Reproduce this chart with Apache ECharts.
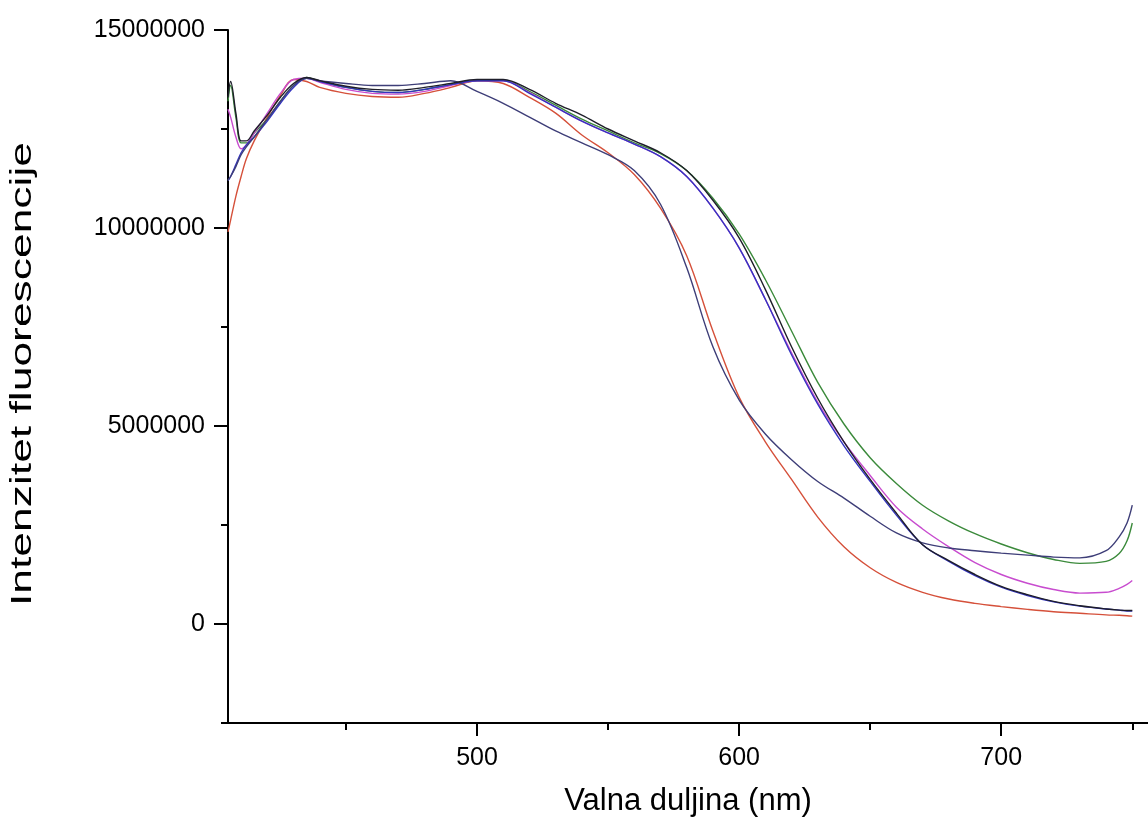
<!DOCTYPE html>
<html>
<head>
<meta charset="utf-8">
<script src="https://cdn.jsdelivr.net/npm/echarts@6/dist/echarts.min.js"></script>
<style>html,body{margin:0;padding:0;background:#fff;}#c{width:1148px;height:825px;}</style>
</head>
<body>
<div id="c"></div>
<script>
// wavelengths (nm)
var wavelengths = [405,406,408,410,412,415,420,425,430,435,440,450,460,470,480,490,500,510,520,530,540,550,560,570,580,590,600,610,620,630,640,650,660,670,680,690,700,710,720,730,740,745,748,750];
// intensities (millions)
var seriesRed     = [9.9,10.2,10.8,11.3,11.75,12.2,12.8,13.35,13.75,13.7,13.55,13.4,13.32,13.3,13.4,13.55,13.72,13.65,13.3,12.9,12.35,11.9,11.35,10.5,9.3,7.4,5.73,4.6,3.65,2.7,1.95,1.42,1.05,0.8,0.63,0.52,0.44,0.37,0.31,0.27,0.23,0.22,0.21,0.2];
var seriesGreen   = [13.2,13.6,12.8,12.15,12.15,12.4,12.75,13.2,13.6,13.8,13.7,13.55,13.45,13.42,13.5,13.62,13.72,13.73,13.45,13.1,12.75,12.45,12.15,11.88,11.45,10.75,9.85,8.7,7.4,6.1,5.05,4.2,3.55,3.0,2.6,2.28,2.02,1.8,1.63,1.53,1.58,1.78,2.1,2.55];
var seriesMagenta = [13.0,12.8,12.3,12.0,12.1,12.4,12.9,13.4,13.75,13.78,13.68,13.5,13.4,13.38,13.45,13.6,13.72,13.72,13.42,13.05,12.7,12.4,12.12,11.8,11.3,10.5,9.5,8.2,6.85,5.6,4.6,3.75,2.95,2.4,1.95,1.55,1.25,1.03,0.87,0.78,0.8,0.9,1.0,1.1];
var seriesBlue    = [11.2,11.3,11.6,11.9,12.1,12.3,12.7,13.15,13.55,13.78,13.7,13.55,13.45,13.42,13.5,13.62,13.72,13.72,13.4,13.05,12.7,12.4,12.12,11.8,11.3,10.5,9.5,8.2,6.8,5.55,4.5,3.6,2.75,2.0,1.58,1.22,0.93,0.72,0.56,0.45,0.38,0.35,0.33,0.33];
var seriesNavy    = [11.2,11.3,11.55,11.85,12.05,12.3,12.75,13.2,13.6,13.78,13.72,13.65,13.6,13.6,13.65,13.72,13.45,13.15,12.8,12.45,12.15,11.85,11.45,10.6,9.0,7.0,5.66,4.8,4.15,3.6,3.18,2.72,2.3,2.05,1.92,1.85,1.79,1.74,1.69,1.67,1.85,2.2,2.55,3.0];
var seriesBlack   = [13.3,13.7,12.9,12.2,12.2,12.45,12.85,13.3,13.65,13.8,13.72,13.58,13.5,13.48,13.55,13.65,13.75,13.75,13.5,13.15,12.85,12.5,12.2,11.9,11.45,10.7,9.75,8.45,7.0,5.7,4.6,3.65,2.8,2.0,1.6,1.25,0.95,0.74,0.57,0.46,0.38,0.35,0.34,0.34];
// tick values
var xMinorTicks = [450,550,650,750];
var xMajorTicks = [500,600,700];
var yMinorTicks = [-2500000,2500000,7500000,12500000];
var yMajorTicks = [0,5000000,10000000,15000000];
var xTitle = 'Valna duljina (nm)';
var yTitle = 'Intenzitet fluorescencije';

function pairs(vals){ return wavelengths.map(function(w,i){ return [w, vals[i]*1e6]; }); }

var chart = echarts.init(document.getElementById('c'), null, {renderer:'canvas'});
var font = 'Arial, "Liberation Sans", sans-serif';
var lineDefs = [
  ['red', seriesRed, '#d5503a'],
  ['green', seriesGreen, '#3b8a3b'],
  ['magenta', seriesMagenta, '#c84ccf'],
  ['blue', seriesBlue, '#3434c0'],
  ['navy', seriesNavy, '#3e3e78'],
  ['black', seriesBlack, '#1e1e2a']
];
chart.setOption({
  animation:false,
  backgroundColor:'#ffffff',
  grid:{left:228, right:0, top:30, bottom:102, containLabel:false, outerBoundsMode:'none'},
  xAxis:[
    {type:'value', min:405, max:756, position:'bottom',
     axisLine:{show:true, onZero:false, lineStyle:{color:'#000', width:2}},
     axisTick:{show:true, inside:false, length:7, lineStyle:{color:'#000', width:2}, customValues:xMinorTicks},
     axisLabel:{show:false}, splitLine:{show:false}},
    {type:'value', min:405, max:756, position:'bottom',
     name:xTitle, nameLocation:'middle', nameGap:63,
     nameTextStyle:{fontFamily:font, fontSize:31, color:'#000'},
     axisLine:{show:false, onZero:false},
     axisTick:{show:true, inside:false, length:13, lineStyle:{color:'#000', width:2}, customValues:xMajorTicks},
     axisLabel:{show:true, customValues:xMajorTicks, margin:23, fontFamily:font, fontSize:25, color:'#000',
       formatter:function(v){ return String(v); }},
     splitLine:{show:false}}
  ],
  yAxis:[
    {type:'value', min:-2500000, max:15000000, position:'left',
     axisLine:{show:true, onZero:false, lineStyle:{color:'#000', width:2}},
     axisTick:{show:true, inside:false, length:7, lineStyle:{color:'#000', width:2}, customValues:yMinorTicks},
     axisLabel:{show:false}, splitLine:{show:false}},
    {type:'value', min:-2500000, max:15000000, position:'left',
     axisLine:{show:false, onZero:false},
     axisTick:{show:true, inside:false, length:14, lineStyle:{color:'#000', width:2}, customValues:yMajorTicks},
     axisLabel:{show:true, customValues:yMajorTicks, margin:23, fontFamily:font, fontSize:25, color:'#000',
       formatter:function(v){ return String(Math.round(v)); }},
     splitLine:{show:false}}
  ],
  graphic:[
    {type:'text', x:23, y:374, rotation:Math.PI/2, scaleX:1.48, scaleY:1, silent:true,
     style:{text:yTitle, font:'30px Arial, "Liberation Sans", sans-serif', fill:'#000', align:'center', verticalAlign:'middle'}}
  ],
  series: lineDefs.map(function(d){
    return {name:d[0], type:'line', xAxisIndex:0, yAxisIndex:0, data:pairs(d[1]),
      showSymbol:false, smooth:0.35, lineStyle:{color:d[2], width:1.4}, itemStyle:{color:d[2]}};
  })
});
</script>
</body>
</html>
